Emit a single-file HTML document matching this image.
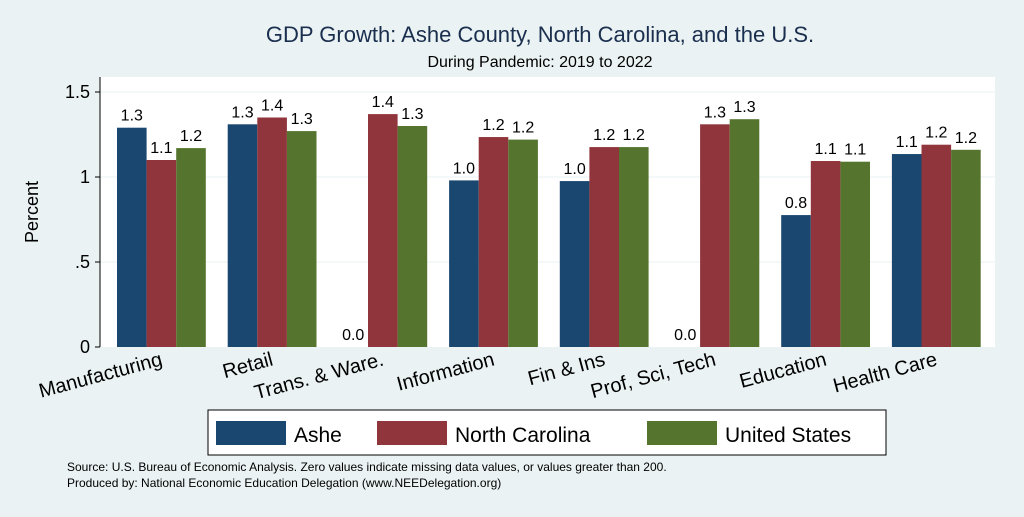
<!DOCTYPE html>
<html><head><meta charset="utf-8"><style>
body{margin:0;width:1024px;height:512px;background:#eaf2f3;font-family:"Liberation Sans",sans-serif;overflow:hidden}
</style></head><body>
<svg width="1024" height="512" id="svg">
<rect x="0" y="0" width="1024" height="512" fill="#eaf2f3"/>
<text x="540" y="42" text-anchor="middle" font-size="22" fill="#1a2e4e">GDP Growth: Ashe County, North Carolina, and the U.S.</text>
<text x="540" y="67" text-anchor="middle" font-size="16" fill="#000">During Pandemic: 2019 to 2022</text>
<rect x="100" y="77" width="895" height="270" fill="#fff"/>
<g id="grid"></g><g id="bars"></g><g id="xlabels"></g>
<text transform="translate(38,212) rotate(-90)" text-anchor="middle" font-size="18">Percent</text>
<g>
<rect x="208" y="410" width="678" height="45" fill="#fff" stroke="#000" stroke-width="1"/>
<rect x="216" y="421" width="70" height="24" fill="#1a476f"/>
<text x="294" y="442" font-size="21">Ashe</text>
<rect x="377" y="421" width="70" height="24" fill="#90353b"/>
<text x="455" y="442" font-size="21">North Carolina</text>
<rect x="647" y="421" width="70" height="24" fill="#55752f"/>
<text x="725" y="442" font-size="21">United States</text>
</g>
<text x="67" y="471" font-size="12">Source: U.S. Bureau of Economic Analysis. Zero values indicate missing data values, or values greater than 200.</text>
<text x="67" y="487" font-size="12">Produced by: National Economic Education Delegation (www.NEEDelegation.org)</text>
</svg>
<script>
const categories=["Manufacturing","Retail","Trans. & Ware.","Information","Fin & Ins","Prof, Sci, Tech","Education","Health Care"];
const ashe=[1.29,1.31,0,0.98,0.976,0,0.776,1.135];
const nc=[1.10,1.35,1.37,1.235,1.176,1.31,1.094,1.19];
const us=[1.17,1.27,1.30,1.22,1.176,1.34,1.09,1.16];
const yTicks=[0,0.5,1,1.5];
const yTickLabels=["0",".5","1","1.5"];
const NS="http://www.w3.org/2000/svg";
const y=v=>347-v*170;
const gx=i=>117+i*110.7;
const bw=29.6;
function mk(t,a,p){const e=document.createElementNS(NS,t);for(const k in a)e.setAttribute(k,a[k]);p.appendChild(e);return e;}
const grid=document.getElementById('grid');
yTicks.forEach((t,i)=>{
 if(t>0){const l=mk('line',{x1:100,x2:995,y1:y(t),y2:y(t),stroke:'#eaf2f3','stroke-width':1},grid);
 
 }
 const tk=mk('line',{x1:95,x2:100,y1:y(t),y2:y(t),stroke:'#000'},grid);
 
 
 const tx=mk('text',{x:90,y:y(t)+6,'text-anchor':'end','font-size':18},grid);
 tx.textContent=yTickLabels[i];
 
 
});
const ax=mk('line',{x1:100,x2:100,y1:77,y2:347,stroke:'#000'},grid);


const bars=document.getElementById('bars');
const series=[[ashe,'#1a476f','ashe'],[nc,'#90353b','nc'],[us,'#55752f','us']];
categories.forEach((c,i)=>{
 series.forEach(([d,col,n],j)=>{
  const x=gx(i)+j*bw,v=d[i];
  const r=mk('rect',{x:x,y:y(v),width:bw,height:v*170,fill:col},bars);
  
  
  const t=mk('text',{x:x+bw/2,y:y(v)-7,'text-anchor':'middle','font-size':16},bars);
  t.textContent=v.toFixed(1);
  
  
 });
 const ex=gx(i)+bw*1.5+2, ey=365;
 const xl=mk('text',{x:ex,y:ey,'text-anchor':'end','font-size':20,transform:`rotate(-15 ${ex} ${ey})`},document.getElementById('xlabels'));
 xl.textContent=c;
 
 
});
</script>
</body></html>
